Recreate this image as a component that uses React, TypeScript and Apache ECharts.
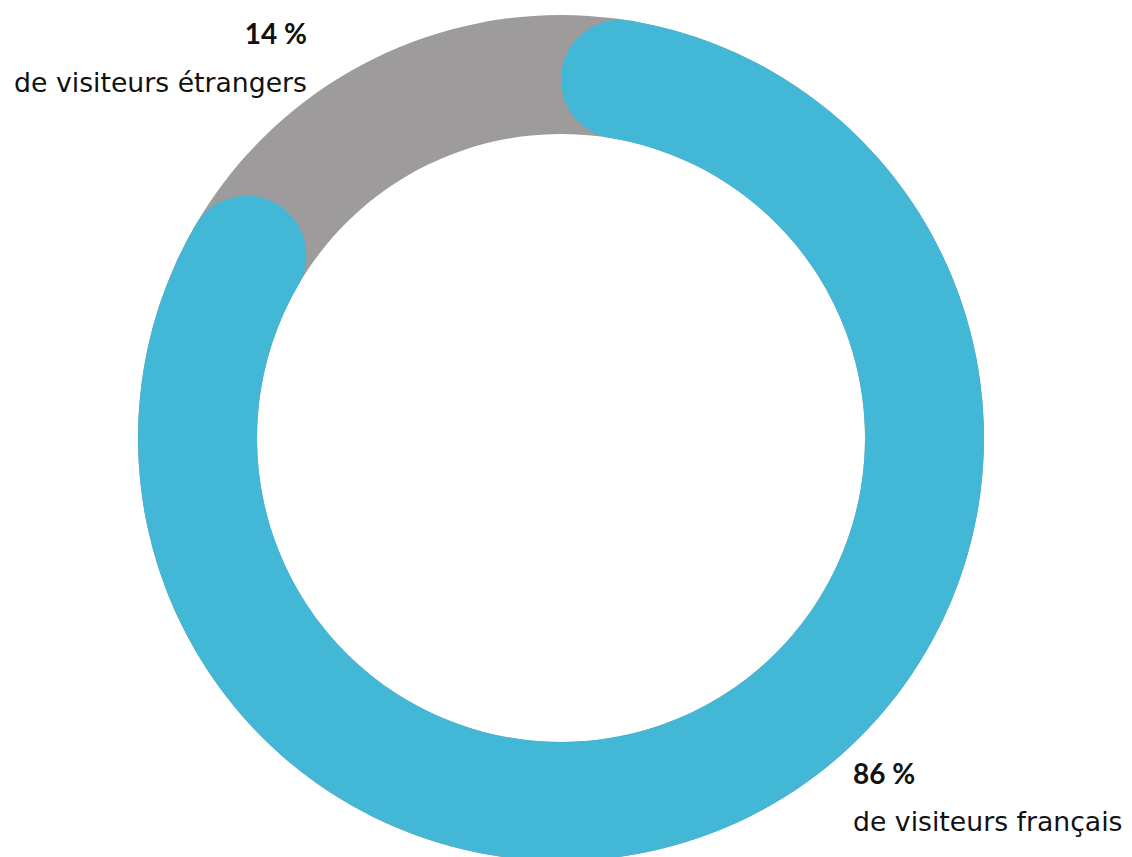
import React, { useEffect, useRef } from "react";
import * as echarts from "echarts";

const categories = ["de visiteurs français", "de visiteurs étrangers"];
const values = [86, 14];
const valueSuffix = " %";

const BLUE = "#42B7D6";
const GRAY = "#9D9B9C";

export default function App() {
  const ref = useRef<HTMLDivElement>(null);
  useEffect(() => {
    if (!ref.current) return;
    const chart = echarts.init(ref.current, null, { renderer: "svg" });
    const data = categories.map((name, i) => ({ name, value: values[i] }));
    const total = values.reduce((a, b) => a + b, 0);
    const labelPos = [
      { x: 853, yPct: 773, yTxt: 821, align: "left" },
      { x: 307, yPct: 33, yTxt: 82, align: "right" },
    ];
    const graphics: any[] = [];
    data.forEach((d, i) => {
      const p = labelPos[i];
      graphics.push({
        type: "text",
        x: p.x,
        y: p.yPct,
        style: {
          text: `${d.value}${valueSuffix}`,
          font: "bold 28px Lato",
          fill: "#111111",
          align: p.align,
          textAlign: p.align,
          verticalAlign: "middle",
          textVerticalAlign: "middle",
        },
      });
      graphics.push({
        type: "text",
        x: p.x,
        y: p.yTxt,
        style: {
          text: d.name,
          font: "26.7px 'DejaVu Sans'",
          fill: "#111111",
          align: p.align,
          textAlign: p.align,
          verticalAlign: "middle",
          textVerticalAlign: "middle",
        },
      });
    });
    chart.setOption({
      animation: false,
      graphic: graphics,
      series: [
        {
          type: "pie",
          silent: true,
          center: [561, 438],
          radius: [304, 423],
          startAngle: 90,
          label: { show: false },
          labelLine: { show: false },
          itemStyle: { color: GRAY, borderWidth: 0 },
          data: [{ name: "total", value: total }],
        },
        {
          type: "pie",
          silent: true,
          center: [561, 438],
          radius: [304, 423],
          startAngle: 90,
          clockwise: true,
          label: { show: false },
          labelLine: { show: false },
          itemStyle: { borderWidth: 0, borderRadius: 60 },
          data: data.map((d, i) => ({
            ...d,
            itemStyle: { color: i === 0 ? BLUE : "rgba(0,0,0,0)" },
          })),
        },
      ],
    });
    return () => chart.dispose();
  }, []);
  return (
    <div
      ref={ref}
      style={{ position: "fixed", left: 0, top: 0, width: 1132, height: 857, background: "#fff" }}
    />
  );
}
